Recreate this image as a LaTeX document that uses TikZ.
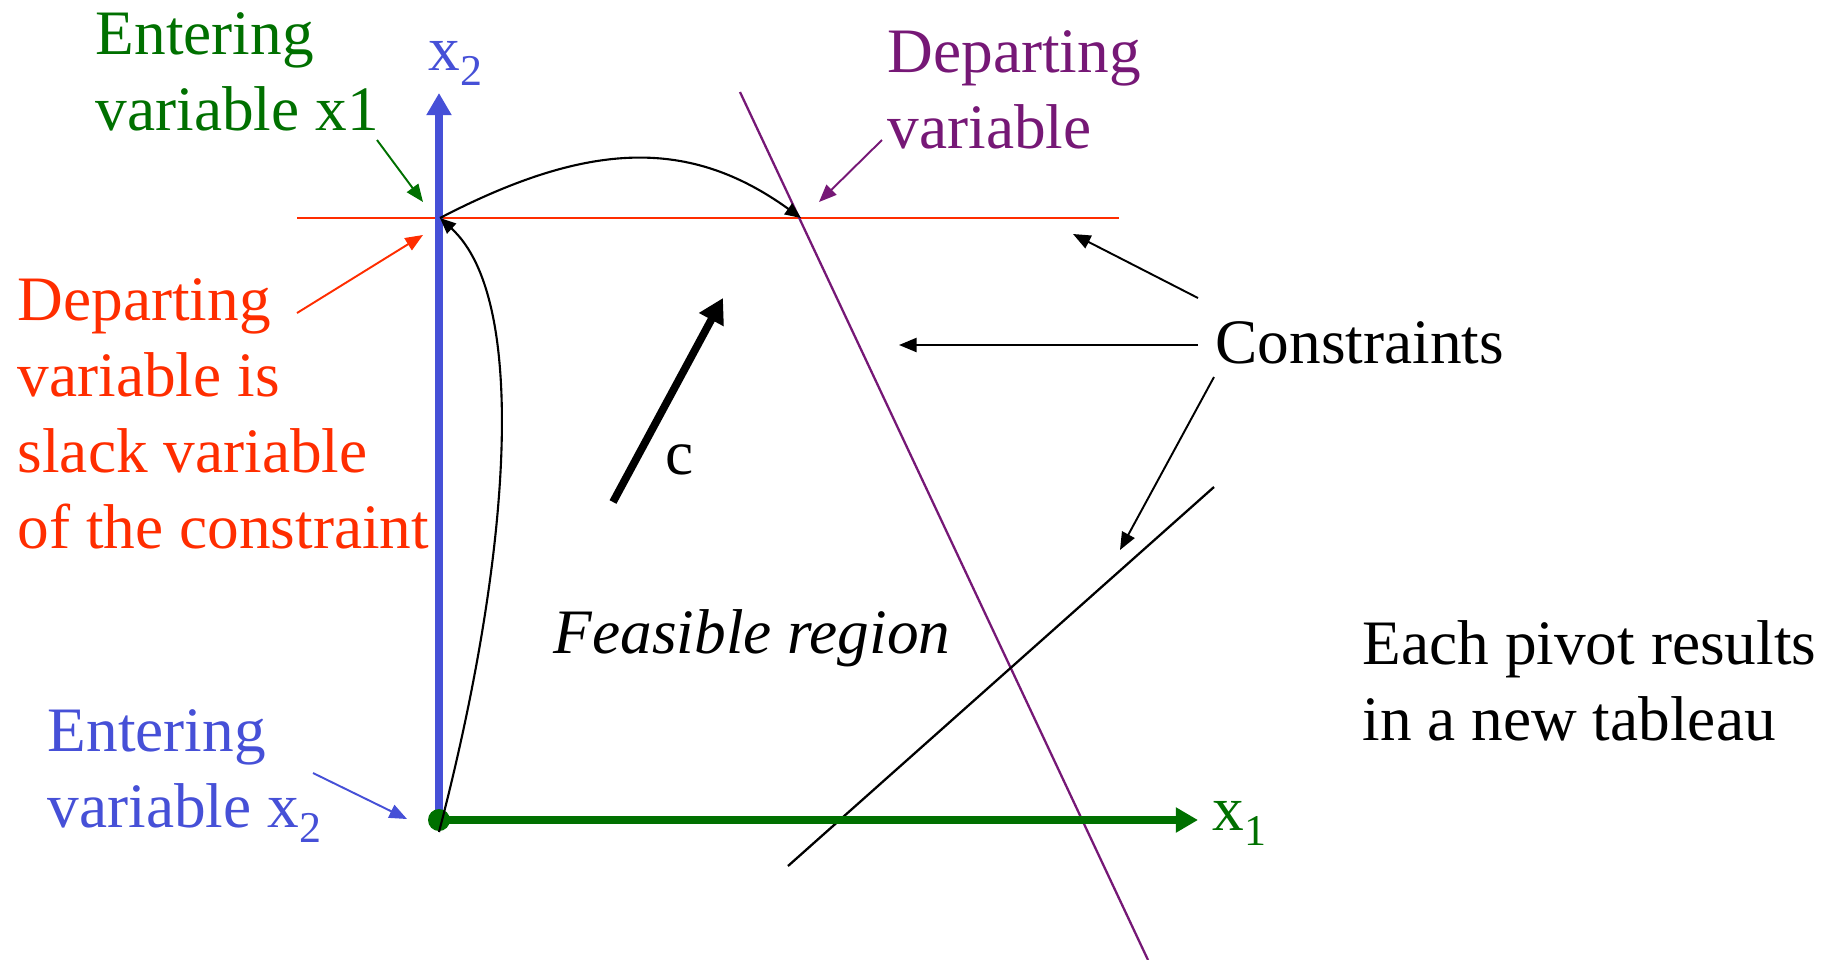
\documentclass[tikz,border=0pt]{standalone}
\usepackage{fontspec}
\setmainfont{Liberation Serif}
\usetikzlibrary{arrows.meta}
\definecolor{axgreen}{RGB}{0,112,0}
\definecolor{axblue}{RGB}{70,80,215}
\definecolor{cred}{RGB}{255,45,0}
\definecolor{cpurple}{RGB}{118,24,118}
\newcommand\mysub[1]{\raisebox{-4.5pt}{\fontsize{12.5}{12.5}\selectfont #1}}
\begin{document}
\begin{tikzpicture}[x=0.01cm,y=-0.01cm,
  lbl/.style={anchor=base west,inner sep=0pt,align=left,font=\fontsize{18}{21.6}\selectfont},
  thinarrow/.style={line width=0.55pt,-{Triangle[length=5pt,width=4pt]}},
  axisarrow/.style={line width=2.3pt,-{Triangle[length=6.3pt,width=6.8pt]}},
  pivotarrow/.style={line width=0.6pt,-{Triangle[length=4.5pt,width=3.8pt]}},
  cline/.style={line width=0.65pt}]
\useasboundingbox (0,0) rectangle (1835,960);

% key points
\coordinate (O) at (439,820);
\coordinate (X2tip) at (439,93);
\coordinate (X1tip) at (1198,820);
\coordinate (V1) at (440,218);
\coordinate (V2) at (801,218);
\coordinate (Start) at (439,832);

% constraint lines
\coordinate (R1) at (297,218);
\coordinate (R2) at (1119,218);
\coordinate (P1) at (740,92);
\coordinate (P2) at (1148,960);
\coordinate (B1) at (788,866);
\coordinate (B2) at (1214,487);
\draw[cline,cred] (R1) -- (R2);
\draw[cline,cpurple] (P1) -- (P2);
\draw[cline,black] (B1) -- (B2);

% axes
\draw[axisarrow,axblue] (O) -- (X2tip);
\draw[axisarrow,axgreen] (O) -- (X1tip);
\fill[axgreen] (O) circle (11);

% labels on axes
\node[lbl,text=axblue] (x2) at (428,70) {x\mysub{2}};
\node[lbl,text=axgreen] (x1) at (1212,830) {x\mysub{1}};

% pivot path
\draw[pivotarrow] (Start) .. controls (510,560) and (530,300) .. (V1);
\draw[pivotarrow] (V1) .. controls (590,140) and (690,138) .. (V2);

% objective direction
\coordinate (Ctail) at (613,502);
\coordinate (Ctip) at (723,298);
\draw[line width=2.2pt,-{Triangle[length=7pt,width=7.5pt]}] (Ctail) -- (Ctip);
\node[lbl] (c) at (665,474) {c};

\node[lbl,font=\fontsize{18}{21.6}\selectfont\itshape] (feas) at (553,653) {Feasible region};

% annotations (base anchor = baseline of last line)
\node[lbl,text=axgreen] (entx1) at (95,130) {Entering\\variable x1};
\node[lbl,text=cpurple] (depv) at (887,148) {Departing\\variable};
\node[lbl,text=cred] (slack) at (17,548) {Departing\\variable is\\slack variable\\of the constraint};
\node[lbl,text=axblue] (entx2) at (47,827) {Entering\\variable x\mysub{2}};
\node[lbl] (cons) at (1215,363) {Constraints};
\node[lbl] (pivot) at (1362,740) {Each pivot results\\in a new tableau};

\coordinate (gT) at (377,140); \coordinate (gH) at (423,202);
\coordinate (rT) at (297,313); \coordinate (rH) at (423,235);
\coordinate (bT) at (313,773); \coordinate (bH) at (407,819);
\coordinate (pT) at (882,140); \coordinate (pH) at (819,202);
\coordinate (k1T) at (1198,298); \coordinate (k1H) at (1073,234);
\coordinate (k2T) at (1198,345); \coordinate (k2H) at (899,345);
\coordinate (k3T) at (1214,377); \coordinate (k3H) at (1120,550);

\draw[thinarrow,axgreen] (gT) -- (gH);
\draw[thinarrow,cred] (rT) -- (rH);
\draw[thinarrow,axblue] (bT) -- (bH);
\draw[thinarrow,cpurple] (pT) -- (pH);
\draw[thinarrow] (k1T) -- (k1H);
\draw[thinarrow] (k2T) -- (k2H);
\draw[thinarrow] (k3T) -- (k3H);
\end{tikzpicture}
\end{document}
